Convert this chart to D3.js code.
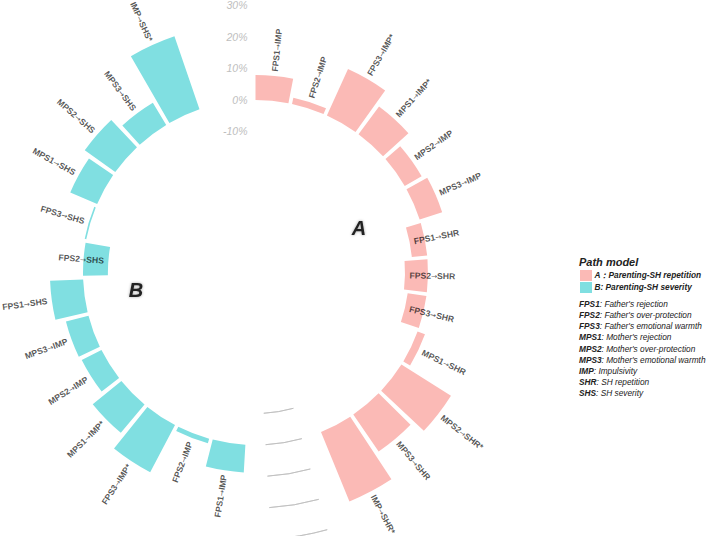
<!DOCTYPE html>
<html>
<head>
<meta charset="utf-8">
<script src="https://cdn.jsdelivr.net/npm/d3@7"></script>
<style>
  html, body { margin: 0; padding: 0; background: #fff; }
  svg { display: block; font-family: "Liberation Sans", Arial, sans-serif; }
</style>
</head>
<body>
<svg id="chart" width="709" height="536"></svg>
<script>
// ---------- data (values in %) ----------
const categoriesA = ["FPS1→IMP","FPS2→IMP","FPS3→IMP*","MPS1→IMP*","MPS2→IMP","MPS3→IMP",
                     "FPS1→SHR","FPS2→SHR","FPS3→SHR","MPS1→SHR","MPS2→SHR*","MPS3→SHR","IMP→SHR*"];
const valuesA     = [7.9, 2.0, 16.2, 10.9, 6.2, 7.5, -4.9, -7.3, -6.0, 2.5, 18.6, 14.2, 23.8];

const categoriesB = ["FPS1→IMP","FPS2→IMP","FPS3→IMP*","MPS1→IMP*","MPS2→IMP","MPS3→IMP",
                     "FPS1→SHS","FPS2→SHS","FPS3→SHS","MPS1→SHS","MPS2→SHS","MPS3→SHS","IMP→SHS*"];
const valuesB     = [8.8, 1.5, 16.9, 11.7, 7.0, 7.4, 10.5, -7.9, 0.5, 9.3, 11.9, 8.2, 24.5];

const groups = ["A", "B"];
const groupColors = ["#FBBAB6", "#80DFE1"];
const groupLegend = ["A\uFF1AParenting-SH repetition", "B: Parenting-SH severity"];
const emptyBar = 2;

const gridValues = [-10, 0, 10, 20, 30];
const gridLabels = ["-10%", "0%", "10%", "20%", "30%"];

const defAbbr = ["FPS1","FPS2","FPS3","MPS1","MPS2","MPS3","IMP","SHR","SHS"];
const defText = ["Father's rejection","Father's over-protection","Father's emotional warmth",
                 "Mother's rejection","Mother's over-protection","Mother's emotional warmth",
                 "Impulsivity","SH repetition","SH severity"];

// ---------- build rows with ids (ggplot-style with empty bars) ----------
const rows = [];
let id = 1;
[[categoriesA, valuesA, 0], [categoriesB, valuesB, 1]].forEach(([cats, vals, g]) => {
  cats.forEach((c, i) => rows.push({ id: id++, label: c, value: vals[i], group: g }));
  id += emptyBar;
});
const maxId = id - 1; // 30

const svg = d3.select("#chart");
const cx = 255.5, cy = 272.5;
const g = svg.append("g").attr("transform", `translate(${cx},${cy})`);

const theta = d3.scaleLinear().domain([0.55, maxId]).range([0, 2 * Math.PI]);
const r = d3.scaleLinear().domain([-10, 30]).range([141, 267]);

// ---------- grid arcs in the gap between A and B ----------
const endA = categoriesA.length + 1;                 // 14
const startB = categoriesA.length + emptyBar;        // 15
g.selectAll("path.grid").data(gridValues).enter().append("path")
  .attr("class", "grid")
  .attr("d", v => d3.arc()({ innerRadius: r(v), outerRadius: r(v),
                             startAngle: theta(endA), endAngle: theta(startB) }))
  .attr("fill", "none").attr("stroke", "#BEBEBE").attr("stroke-width", 0.8);

// ---------- bars ----------
const arc = d3.arc()
  .innerRadius(d => r(Math.min(0, d.value)))
  .outerRadius(d => r(Math.max(0, d.value)))
  .startAngle(d => theta(d.id - 0.45))
  .endAngle(d => theta(d.id + 0.45));

g.selectAll("path.bar").data(rows).enter().append("path")
  .attr("class", "bar")
  .attr("d", arc)
  .attr("fill", d => groupColors[d.group]);

// ---------- axis labels at the top ----------
g.selectAll("text.axis").data(gridValues).enter().append("text")
  .attr("class", "axis")
  .attr("x", -8).attr("y", v => -r(v)).attr("dy", "0.35em")
  .attr("text-anchor", "end")
  .attr("font-size", 10.5).attr("font-style", "italic")
  .attr("fill", "#BEBEBE")
  .text((v, i) => gridLabels[i]);

// ---------- bar labels ----------
g.selectAll("text.lab").data(rows).enter().append("text")
  .attr("class", "lab")
  .each(function(d) {
    const a = theta(d.id);
    const deg = a * 180 / Math.PI;
    const R = r(d.value) + 4.5;
    const x = R * Math.sin(a), y = -R * Math.cos(a);
    const left = deg >= 180;
    const t = d3.select(this)
      .attr("transform", `translate(${x},${y}) rotate(${left ? deg + 90 : deg - 90})`)
      .attr("text-anchor", left ? "end" : "start");
    const parts = d.label.split("→");
    t.append("tspan").text(parts[0]);
    t.append("tspan").attr("font-family", "'DejaVu Sans', sans-serif")
      .attr("font-weight", "normal").attr("font-size", 7.4).text("→");
    t.append("tspan").text(parts[1]);
  })
  .attr("dy", "0.35em")
  .attr("font-size", 8.6).attr("font-weight", "bold")
  .attr("fill", "#000").attr("fill-opacity", 0.68);

// ---------- group letters ----------
const defs = svg.append("defs");
const f = defs.append("filter").attr("id", "glow").attr("x", "-50%").attr("y", "-50%").attr("width", "200%").attr("height", "200%");
f.append("feGaussianBlur").attr("in", "SourceAlpha").attr("stdDeviation", 1.6).attr("result", "b");
f.append("feComponentTransfer").attr("in", "b").attr("result", "b2")
  .append("feFuncA").attr("type", "linear").attr("slope", 0.35);
const fm = f.append("feMerge");
fm.append("feMergeNode").attr("in", "b2");
fm.append("feMergeNode").attr("in", "SourceGraphic");

const letterPos = [[359, 228], [136, 290]];
svg.selectAll("text.grp").data(groups).enter().append("text")
  .attr("class", "grp")
  .attr("x", (d, i) => letterPos[i][0]).attr("y", (d, i) => letterPos[i][1])
  .attr("dy", "0.35em").attr("text-anchor", "middle")
  .attr("font-size", 20).attr("font-weight", "bold").attr("font-style", "italic")
  .attr("fill", "#222").attr("filter", "url(#glow)")
  .text(d => d);

// ---------- legend ----------
const lg = svg.append("g");
lg.append("text").attr("x", 579).attr("y", 262).attr("dy", "0.35em")
  .attr("font-size", 11).attr("font-weight", "bold").attr("font-style", "italic")
  .attr("fill", "#222").text("Path model");

groups.forEach((gr, i) => {
  lg.append("rect").attr("x", 580).attr("y", 270 + i * 12).attr("width", 12).attr("height", 11)
    .attr("fill", groupColors[i]);
  lg.append("text").attr("x", 594.5).attr("y", 275.5 + i * 11.5).attr("dy", "0.35em")
    .attr("font-size", 8.3).attr("font-weight", "bold").attr("font-style", "italic")
    .attr("fill", "#222").text(groupLegend[i]);
});

defAbbr.forEach((ab, i) => {
  const t = lg.append("text").attr("x", 579).attr("y", 304 + i * 11.15).attr("dy", "0.35em")
    .attr("font-size", 8.3).attr("font-style", "italic").attr("fill", "#222");
  t.append("tspan").attr("font-weight", "bold").text(ab);
  t.append("tspan").text(": " + defText[i]);
});
</script>
</body>
</html>
